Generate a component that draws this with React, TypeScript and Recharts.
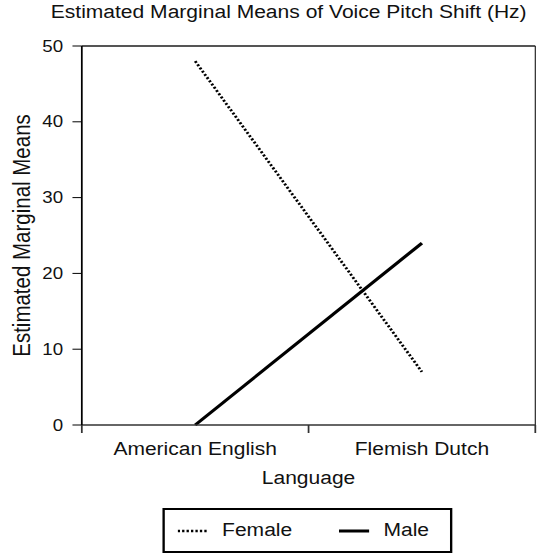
import React from 'react';
import { LineChart, Line, XAxis, YAxis, ReferenceLine, Legend } from 'recharts';

const LANGUAGES = ['American English', 'Flemish Dutch'];
const FEMALE = [48, 7];
const MALE = [0, 24];
const Y_TICKS = [0, 10, 20, 30, 40, 50];
const X_TICKS = [0, 0.5, 1, 1.5, 2];

// the source picture is stretched sideways, so the whole chart is scaled the same way
const STRETCH = 1.1688;
const W = 462;
const H = 555;

const data = LANGUAGES.map((language, i) => ({
  pos: i + 0.5,
  language,
  female: FEMALE[i],
  male: MALE[i],
}));

const LanguageTick = (props: any) => {
  const { x, y, payload } = props;
  const v = payload.value as number;
  if (Number.isInteger(v)) {
    return <line x1={x} x2={x} y1={y} y2={y + 8} stroke="#333" strokeWidth={1.5} />;
  }
  return (
    <text x={x} y={y + 30} textAnchor="middle" fontSize={18} fill="#111">
      {LANGUAGES[Math.floor(v)]}
    </text>
  );
};

const LegendBox = (props: any) => {
  const items = props.payload || [];
  return (
    <div
      style={{
        boxSizing: 'border-box',
        width: 248,
        height: 45,
        border: '2px solid #000',
        display: 'flex',
        alignItems: 'center',
        fontSize: 18,
        color: '#111',
        background: '#fff',
      }}
    >
      {items.map((item: any, i: number) => (
        <React.Fragment key={item.value}>
          <svg width={26} height={10} style={{ marginLeft: i === 0 ? 11 : 40 }}>
            <line
              x1={0}
              x2={26}
              y1={5}
              y2={5}
              stroke="#000"
              strokeWidth={item.payload?.strokeWidth ?? 2.5}
              strokeDasharray={item.payload?.strokeDasharray}
            />
          </svg>
          <span style={{ marginLeft: 12 }}>{item.value}</span>
        </React.Fragment>
      ))}
    </div>
  );
};

export default function App() {
  return (
    <div
      style={{
        position: 'absolute',
        left: 0,
        top: 0,
        width: W,
        height: H,
        transform: `scaleX(${STRETCH})`,
        transformOrigin: '0 0',
        fontFamily: '"Liberation Sans", Arial, sans-serif',
        background: '#fff',
      }}
    >
      <div
        style={{
          position: 'absolute',
          left: 0,
          top: 3,
          width: 494,
          textAlign: 'center',
          fontSize: 18,
          lineHeight: '18px',
          color: '#111',
          whiteSpace: 'nowrap',
        }}
      >
        Estimated Marginal Means of Voice Pitch Shift (Hz)
      </div>
      <LineChart width={W} height={H} data={data} margin={{ top: 46, right: 4, left: 0, bottom: 2 }}>
        <XAxis
          dataKey="pos"
          type="number"
          domain={[0, 2]}
          ticks={X_TICKS}
          interval={0}
          tickLine={false}
          tickSize={0}
          tickMargin={0}
          tick={LanguageTick}
          axisLine={{ stroke: '#333', strokeWidth: 1.5 }}
          height={83}
          label={{
            value: 'Language',
            position: 'insideTop',
            offset: 46,
            fill: '#111',
            style: { fontSize: 18 },
          }}
        />
        <YAxis
          domain={[0, 50]}
          ticks={Y_TICKS}
          interval={0}
          width={70}
          tickSize={8}
          tickMargin={8}
          tick={{ fontSize: 16, fill: '#111' }}
          tickLine={{ stroke: '#000' }}
          axisLine={{ stroke: '#000', strokeWidth: 1.5 }}
          label={{
            value: 'Estimated Marginal Means',
            angle: -90,
            position: 'insideLeft',
            dx: 13,
            fill: '#111',
            style: { textAnchor: 'middle', fontSize: 20.5 },
          }}
        />
        <ReferenceLine y={50} stroke="#555" strokeWidth={2} />
        <ReferenceLine x={2} stroke="#222" strokeWidth={1} />
        <Line
          type="linear"
          dataKey="female"
          name="Female"
          stroke="#000"
          strokeWidth={2.5}
          strokeDasharray="2 1.8"
          dot={false}
          activeDot={false}
          isAnimationActive={false}
        />
        <Line
          type="linear"
          dataKey="male"
          name="Male"
          stroke="#000"
          strokeWidth={3}
          dot={false}
          activeDot={false}
          isAnimationActive={false}
        />
        <Legend
          verticalAlign="bottom"
          content={LegendBox}
          wrapperStyle={{ left: 139, width: 248, bottom: 2 }}
        />
      </LineChart>
    </div>
  );
}
